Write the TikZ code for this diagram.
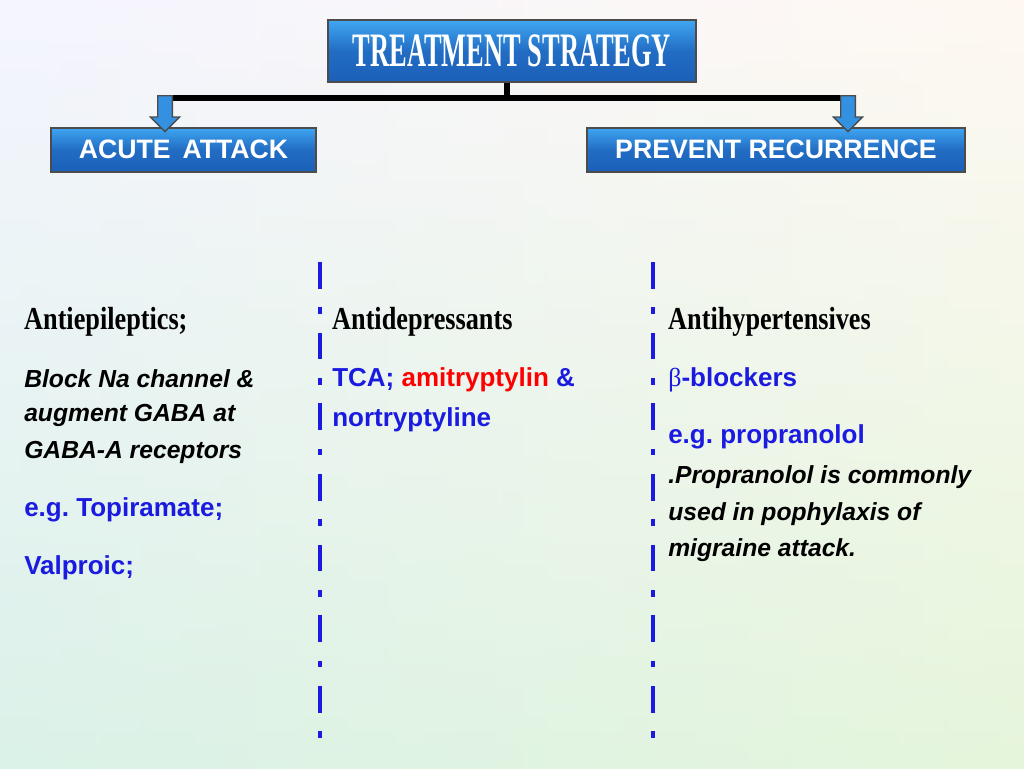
\documentclass[tikz,border=0pt]{standalone}
\usepackage{fontspec}
\setmainfont{Liberation Sans}
\newfontfamily\headf{Liberation Serif}
\usetikzlibrary{shapes.arrows}
\frenchspacing
\definecolor{txtblue}{HTML}{1A1AE0}
\definecolor{boxdark}{HTML}{1B5FB8}
\definecolor{boxlight}{HTML}{3FA6F2}
\tikzset{
 bluebox/.style={draw=black!70,line width=1.5pt,top color=boxlight,bottom color=boxdark,middle color=boxdark!80!boxlight,text=white,font=\bfseries\fontsize{20}{22}\selectfont,inner sep=0pt},
 head/.style={anchor=west,font=\headf\bfseries\fontsize{24}{26}\selectfont,xscale=0.82,inner sep=0pt},
 body/.style={anchor=west,font=\bfseries\fontsize{19.5}{20}\selectfont,inner sep=0pt},
 bodyi/.style={anchor=west,font=\bfseries\itshape\fontsize{18.5}{20}\selectfont,inner sep=0pt},
 sep/.style={draw=txtblue,line width=3.5pt,dash pattern=on 20pt off 14pt on 5pt off 14pt},
 downarr/.style={single arrow,shape border rotate=270,draw=black!70,fill=boxlight!70!boxdark,minimum height=27pt,minimum width=22pt,single arrow head extend=4pt,inner sep=3.5pt,line width=1pt}
}
\begin{document}
\begin{tikzpicture}[x=0.75pt,y=-0.75pt]
\useasboundingbox (0,0) rectangle (1024,768);
\shade[left color=blue!8!white,right color=orange!10!white] (0,0) rectangle (1024,768);
\shade[top color=white,bottom color=teal!25!green!20!white,opacity=0.5] (0,0) rectangle (1024,768);
% boxes
\node[bluebox,minimum width=276pt,minimum height=46pt] (title) at (512,51) {\headf\fontsize{36}{36}\selectfont\scalebox{0.55}[1]{TREATMENT STRATEGY}};
\node[bluebox,minimum width=199pt,minimum height=33pt] (acute) at (183.5,149.5) {ACUTE\, ATTACK};
\node[bluebox,minimum width=283pt,minimum height=33pt] (prev) at (776,149.5) {PREVENT RECURRENCE};
\coordinate (bar) at (507,98);
\coordinate (bl) at (165,98);
\coordinate (br) at (848,98);
\draw[line width=4pt] (title.south -| bar) -- (bar);
\draw[line width=4pt] (bl) -- (br);
\node[downarr,anchor=north] (al) at (165,95) {};
\node[downarr,anchor=north] (ar) at (848,95) {};
% separators
\coordinate (s1a) at (320,262); \coordinate (s1b) at (320,740);
\coordinate (s2a) at (653,262); \coordinate (s2b) at (653,740);
\draw[sep] (s1a) -- (s1b);
\draw[sep] (s2a) -- (s2b);
% column 1
\node[head] (h1) at (24,322) {Antiepileptics;};
\node[bodyi] (l1) at (24,379) {Block Na channel \&};
\node[bodyi] (l2) at (24,415) {augment GABA at};
\node[bodyi] (l3) at (24,452) {GABA-A receptors};
\node[body,text=txtblue] (l4) at (24,510) {e.g. Topiramate;};
\node[body,text=txtblue] (l5) at (24,568) {Valproic;};
% column 2
\node[head] (h2) at (332,322) {Antidepressants};
\node[body,text=txtblue] (m1) at (332,380) {TCA; \textcolor{red}{amitryptylin} \&};
\node[body,text=txtblue] (m2) at (332,420) {nortryptyline};
% column 3
\node[head] (h3) at (668,322) {Antihypertensives};
\node[body,text=txtblue] (r1) at (668,380) {{\headf\mdseries β}-blockers};
\node[body,text=txtblue] (r2) at (668,437) {e.g. propranolol};
\node[bodyi] (r3) at (668,477) {.Propranolol is commonly};
\node[bodyi] (r4) at (668,514) {used in pophylaxis of};
\node[bodyi] (r5) at (668,550) {migraine attack.};
\end{tikzpicture}
\end{document}
